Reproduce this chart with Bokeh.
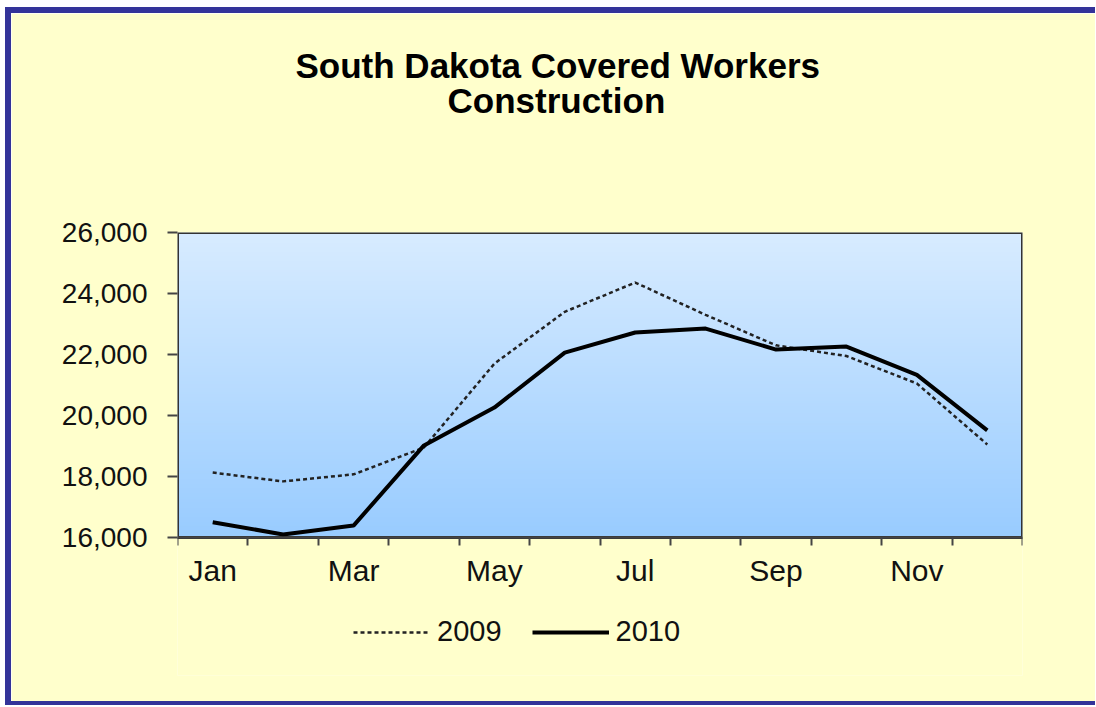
import numpy as np
from bokeh.plotting import figure
from bokeh.models import (FixedTicker, NumeralTickFormatter, Title, Legend,
                          LegendItem, Range1d)
from bokeh.embed import file_html
from bokeh.resources import INLINE

title_line1 = "South Dakota Covered Workers"
title_line2 = "Construction"
months = ["Jan", "Feb", "Mar", "Apr", "May", "Jun",
          "Jul", "Aug", "Sep", "Oct", "Nov", "Dec"]
v2009 = [18130, 17840, 18070, 18950, 21700, 23400,
         24360, 23300, 22300, 21950, 21050, 19050]
v2010 = [16500, 16100, 16390, 19020, 20260, 22060,
         22720, 22850, 22160, 22260, 21330, 19510]
y_ticks = [16000, 18000, 20000, 22000, 24000, 26000]
labelled_months = ["Jan", "Mar", "May", "Jul", "Sep", "Nov"]
series_labels = ["2009", "2010"]

FONT = "Liberation Sans"
YMIN, YMAX = y_ticks[0], y_ticks[-1]
NM = len(months)
xs = [i + 0.5 for i in range(NM)]

# layout (pixels): plot area height, and frame height (plot area + room
# below it for month labels and legend, which are drawn inside the frame)
PLOT_PX, FRAME_PX = 305, 443
y_start = YMAX - (YMAX - YMIN) * FRAME_PX / PLOT_PX

W, H = 1090, 698
p = figure(width=W, height=H, output_backend="svg", toolbar_location=None,
           title=None,
           x_range=Range1d(0, NM), y_range=Range1d(y_start, YMAX),
           min_border_left=166, min_border_top=219,
           min_border_right=79, min_border_bottom=H - 219 - FRAME_PX)
p.styles = {"border-left": "6px solid #333399",
            "border-top": "6px solid #333399",
            "border-bottom": "4px solid #333399",
            "margin-left": "5px", "margin-top": "7px"}
p.border_fill_color = "#ffffcc"
p.background_fill_color = "#ffffcc"
p.outline_line_color = None
p.xgrid.visible = False
p.ygrid.visible = False

# vertical gradient background in plot area
n = 200
top = np.array([216, 236, 255], dtype=float)
bot = np.array([153, 204, 255], dtype=float)
t = np.linspace(0, 1, n)[:, None]
cols = bot * (1 - t) + top * t  # row 0 = bottom
img = np.empty((n, 1), dtype=np.uint32)
view = img.view(dtype=np.uint8).reshape((n, 1, 4))
view[:, 0, 0] = cols[:, 0].astype(np.uint8)
view[:, 0, 1] = cols[:, 1].astype(np.uint8)
view[:, 0, 2] = cols[:, 2].astype(np.uint8)
view[:, 0, 3] = 255
p.image_rgba(image=[img], x=0, y=YMIN, dw=NM, dh=YMAX - YMIN)
# plot-area border
p.quad(left=0, right=NM, bottom=YMIN, top=YMAX, fill_alpha=0,
       line_color="#333333", line_width=3)

r09 = p.line(xs, v2009, line_color="#222222", line_width=2.5, line_dash="4 3")
r10 = p.line(xs, v2010, line_color="#000000", line_width=4)

# x axis, fixed at the bottom of the value range
xa = p.xaxis[0]
xa.fixed_location = YMIN
xa.ticker = FixedTicker(ticks=[months.index(m) + 0.5 for m in labelled_months],
                        minor_ticks=list(range(NM + 1)))
xa.major_label_overrides = {months.index(m) + 0.5: m for m in labelled_months}
xa.major_tick_line_color = None
xa.major_tick_out = 0
xa.major_tick_in = 0
xa.minor_tick_out = 8
xa.minor_tick_in = 0
xa.minor_tick_line_color = "#444444"
xa.minor_tick_line_width = 2
xa.axis_line_color = "#444444"
xa.axis_line_width = 2
xa.major_label_text_font = FONT
xa.major_label_text_font_size = "30px"
xa.major_label_text_color = "#111111"
xa.major_label_standoff = 8

# y axis
ya = p.yaxis[0]
ya.ticker = FixedTicker(ticks=y_ticks, minor_ticks=[])
ya.formatter = NumeralTickFormatter(format="0,0")
ya.major_tick_out = 10
ya.major_tick_in = 0
ya.major_tick_line_color = "#444444"
ya.major_tick_line_width = 2
ya.axis_line_color = None
ya.major_label_text_font = FONT
ya.major_label_text_font_size = "28px"
ya.major_label_text_color = "#111111"
ya.major_label_standoff = 20

# title (first added = closest to the frame)
tstyle = dict(text_font=FONT, text_font_size="35px", text_font_style="bold",
              text_color="#000000")
p.add_layout(Title(text=" ", standoff=78, **tstyle), "above")
p.add_layout(Title(text=title_line2, align="left", offset=270, standoff=-12,
                   **tstyle), "above")
p.add_layout(Title(text=title_line1, align="left", offset=118, standoff=0,
                   **tstyle), "above")

legend = Legend(items=[LegendItem(label=series_labels[0], renderers=[r09]),
                       LegendItem(label=series_labels[1], renderers=[r10])],
                orientation="horizontal", location=(176, 27),
                glyph_width=77, glyph_height=30, label_standoff=7, spacing=30,
                padding=0, margin=0, border_line_color=None,
                background_fill_alpha=0,
                label_text_font=FONT, label_text_font_size="29px",
                label_text_color="#111111")
p.add_layout(legend, "center")

open("out.html", "w").write(file_html(p, INLINE))
